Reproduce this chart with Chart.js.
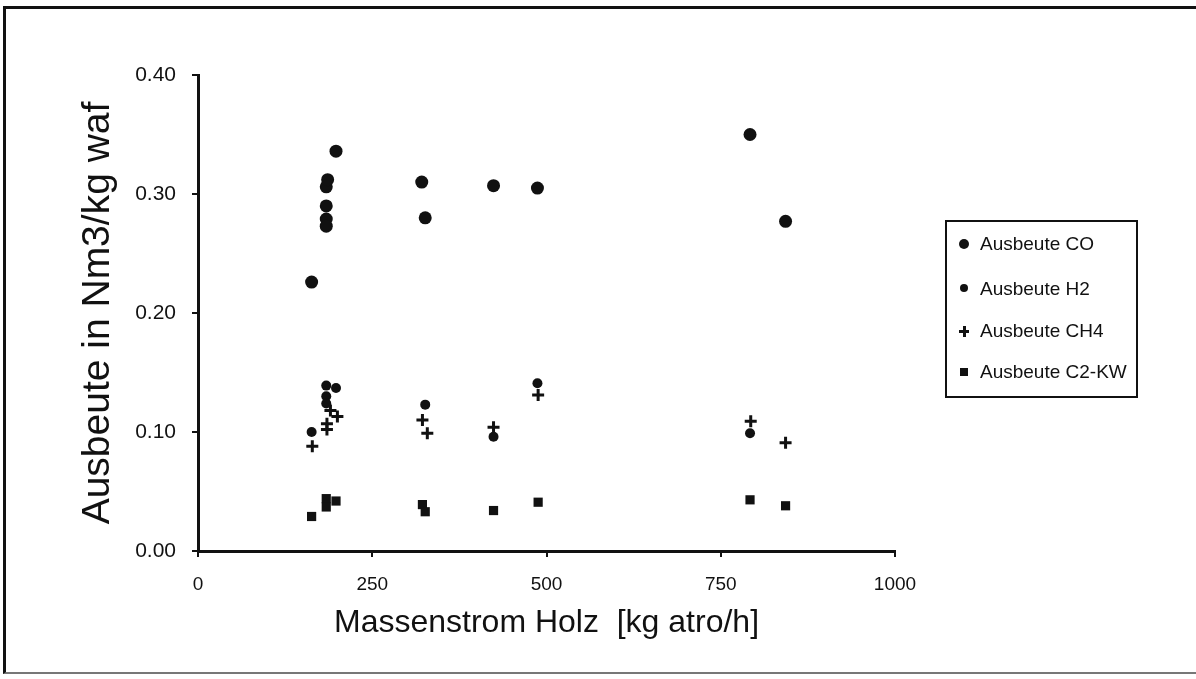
<!DOCTYPE html>
<html lang="de">
<head>
  <meta charset="UTF-8">
  <title>Ausbeute</title>
  <script src="https://cdn.jsdelivr.net/npm/chart.js"></script>
  <style>
    html, body { margin: 0; padding: 0; background: #fff; }
    body { width: 1196px; height: 679px; position: relative; overflow: hidden; font-family: "Liberation Sans", Arial, sans-serif; }
    .rahmen { position: absolute; left: 3px; top: 6px; width: 1193px; height: 668px; border-top: 3px solid #111; border-left: 3px solid #111; border-bottom: 2px solid #777; box-sizing: border-box; }
    .chart-box { position: absolute; left: 0; top: 0; width: 1196px; height: 679px; }
    .legende { position: absolute; left: 945px; top: 220px; width: 193px; height: 178px; border: 2px solid #111; box-sizing: border-box; }
    .item { position: absolute; left: 0; height: 20px; line-height: 20px; font-size: 19px; color: #111; }
    .item span.txt { position: absolute; left: 33px; white-space: nowrap; }
    .mk { position: absolute; background: #111; }
  </style>
</head>
<body>
  <div class="rahmen"></div>
  <div class="chart-box"><canvas id="chart"></canvas></div>

  <!-- Legende -->
  <div class="legende">
    <div class="item" style="top: 12px;"><div class="mk" style="left:12px; top:5px; width:10px; height:10px; border-radius:50%;"></div><span class="txt">Ausbeute CO</span></div>
    <div class="item" style="top: 57px;"><div class="mk" style="left:13px; top:5px; width:8px; height:8px; border-radius:50%;"></div><span class="txt">Ausbeute H2</span></div>
    <div class="item" style="top: 99px;"><div class="mk" style="left:12px; top:9px; width:10px; height:3px;"></div><div class="mk" style="left:16px; top:5px; width:3px; height:11px;"></div><span class="txt">Ausbeute CH4</span></div>
    <div class="item" style="top: 140px;"><div class="mk" style="left:13px; top:6px; width:8px; height:8px;"></div><span class="txt">Ausbeute C2-KW</span></div>
  </div>

  <script>
    // Massenstrom Holz [kg atro/h] und Ausbeute [Nm3/kg waf]
    const xCO  = [163, 184, 186, 184, 184, 184, 198, 321, 326, 424, 487, 792, 843];
    const yCO  = [0.226, 0.306, 0.312, 0.290, 0.279, 0.273, 0.336, 0.310, 0.280, 0.307, 0.305, 0.350, 0.277];

    const xH2  = [163, 184, 198, 184, 184, 326, 424, 487, 792];
    const yH2  = [0.100, 0.139, 0.137, 0.130, 0.124, 0.123, 0.096, 0.141, 0.099];

    const xCH4 = [164, 185, 185, 190, 200, 322, 329, 424, 488, 793, 843];
    const yCH4 = [0.088, 0.107, 0.102, 0.118, 0.113, 0.110, 0.099, 0.104, 0.131, 0.109, 0.091];

    const xC2  = [163, 184, 184, 198, 322, 326, 424, 488, 792, 843];
    const yC2  = [0.029, 0.044, 0.037, 0.042, 0.039, 0.033, 0.034, 0.041, 0.043, 0.038];

    const xTicks = [0, 250, 500, 750, 1000];
    const yTicks = [0, 0.1, 0.2, 0.3, 0.4];

    const toPoints = (xs, ys) => xs.map((x, i) => ({ x: x, y: ys[i] }));

    const schrift = "'Liberation Sans', Arial, sans-serif";

    const datasets = [
      { label: 'Ausbeute CO', data: toPoints(xCO, yCO), pointStyle: 'circle', pointRadius: 6.5, backgroundColor: '#111', borderColor: '#111', borderWidth: 0 },
      { label: 'Ausbeute H2', data: toPoints(xH2, yH2), pointStyle: 'circle', pointRadius: 5, backgroundColor: '#111', borderColor: '#111', borderWidth: 0 },
      { label: 'Ausbeute CH4', data: toPoints(xCH4, yCH4), pointStyle: 'cross', pointRadius: 6, backgroundColor: '#111', borderColor: '#111', borderWidth: 3 },
      { label: 'Ausbeute C2-KW', data: toPoints(xC2, yC2), pointStyle: 'rect', pointRadius: 6.5, backgroundColor: '#111', borderColor: '#111', borderWidth: 0 }
    ];

    const ctx = document.getElementById('chart').getContext('2d');
    new Chart(ctx, {
      type: 'scatter',
      data: { datasets: datasets },
      options: {
        responsive: true,
        maintainAspectRatio: false,
        animation: false,
        layout: { padding: { left: 0, right: 301, top: 75, bottom: 0 } },
        plugins: {
          legend: { display: false },
          tooltip: { enabled: false }
        },
        scales: {
          x: {
            type: 'linear',
            min: 0,
            max: 1000,
            afterFit: scale => { scale.height = 128; },
            afterBuildTicks: scale => { scale.ticks = xTicks.map(v => ({ value: v })); },
            ticks: { color: '#111', padding: 16, font: { family: schrift, size: 19 }, maxRotation: 0, callback: v => String(v) },
            grid: { display: true, drawOnChartArea: false, drawTicks: true, tickLength: 6, color: '#111', lineWidth: 2 },
            border: { display: true, color: '#111', width: 3 },
            title: { display: true, text: 'Massenstrom Holz  [kg atro/h]', color: '#111', font: { family: schrift, size: 32, lineHeight: 1 }, padding: { top: 0, bottom: 40 } }
          },
          y: {
            type: 'linear',
            min: 0,
            max: 0.4,
            afterFit: scale => { scale.width = 198; },
            afterBuildTicks: scale => { scale.ticks = yTicks.map(v => ({ value: v })); },
            ticks: { color: '#111', padding: 16, font: { family: schrift, size: 21 }, callback: v => v.toFixed(2) },
            grid: { display: true, drawOnChartArea: false, drawTicks: true, tickLength: 6, color: '#111', lineWidth: 2 },
            border: { display: true, color: '#111', width: 3 },
            title: { display: true, text: 'Ausbeute in Nm3/kg waf', color: '#111', font: { family: schrift, size: 39, lineHeight: 1 }, padding: { top: 79, bottom: 0 } }
          }
        }
      }
    });
  </script>
</body>
</html>
